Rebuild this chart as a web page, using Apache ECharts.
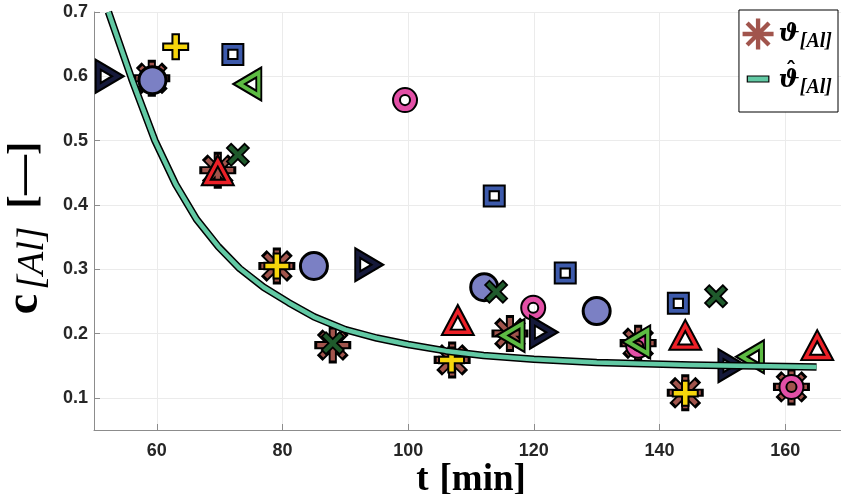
<!DOCTYPE html>
<html>
<head>
<meta charset="utf-8">
<script src="https://cdn.jsdelivr.net/npm/echarts@6/dist/echarts.min.js"></script>
<style>
  html, body { margin: 0; padding: 0; background: #fff; }
  #chart { width: 841px; height: 494px; }
</style>
</head>
<body>
<div id="chart"></div>
<script>
// Mean aluminium fraction per sampling time
const tMean = [59.2, 69.7, 79.1, 88.0, 107.0, 116.2, 136.6, 144.1, 161.0];
const cMean = [0.597, 0.454, 0.305, 0.182, 0.159, 0.200, 0.185, 0.108, 0.117];

// Fitted decay curve
const tFit = [52.3, 56.0, 59.7, 63.0, 66.3, 69.8, 73.2, 77.0, 81.0, 85.0, 90.0, 95.0, 100.0, 106.0, 112.0, 120.0, 130.0, 145.0, 165.0];
const cFit = [0.700, 0.596, 0.500, 0.432, 0.378, 0.335, 0.301, 0.272, 0.248, 0.226, 0.206, 0.193, 0.183, 0.173, 0.166, 0.160, 0.155, 0.151, 0.148];

// Individual runs
const tRunTriR = [52.5, 93.8, 121.6, 151.6];
const cRunTriR = [0.600, 0.307, 0.202, 0.150];
const tRunCircle = [59.3, 85.0, 112.1, 130.0];
const cRunCircle = [0.594, 0.305, 0.272, 0.235];
const tRunPlus = [63.0, 79.1, 106.9, 144.1];
const cRunPlus = [0.646, 0.305, 0.159, 0.107];
const tRunSquare = [72.1, 113.7, 125.0, 143.0];
const cRunSquare = [0.634, 0.414, 0.294, 0.247];
const tRunTriL = [74.4, 116.3, 136.3, 154.4];
const cRunTriL = [0.588, 0.197, 0.187, 0.164];
const tRunRing = [99.5, 119.9, 136.6, 161.0];
const cRunRing = [0.563, 0.240, 0.181, 0.117];
const tRunTriU = [69.7, 107.9, 144.1, 165.1];
const cRunTriU = [0.454, 0.221, 0.198, 0.182];
const tRunCross = [72.9, 114.0, 88.0, 149.0];
const cRunCross = [0.478, 0.265, 0.185, 0.258];

// Tick labels
const xTicks = [60, 80, 100, 120, 140, 160];
const yTicks = [0.1, 0.2, 0.3, 0.4, 0.5, 0.6, 0.7];

const nameMean = 'ϑ[Al]';
const nameFit = 'ϑ̂[Al]';

function pairs(xs, ys) { return xs.map((x, i) => [x, ys[i]]); }

// ---- marker shapes (100x100 boxes) ----
function fmt(v) { return Math.round(v * 100) / 100; }
function rotPoly(pts, deg) {
  const a = deg * Math.PI / 180, c = Math.cos(a), s = Math.sin(a);
  return pts.map(([x, y]) => [50 + (x - 50) * c - (y - 50) * s, 50 + (x - 50) * s + (y - 50) * c]);
}
function polyPath(pts) {
  return 'M' + pts.map(p => fmt(p[0]) + ',' + fmt(p[1])).join('L') + 'Z';
}
// star of four bars through the centre
function starPath(h) {
  let d = '';
  for (let k = 0; k < 4; k++) {
    const bar = [[0, 50 - h], [100, 50 - h], [100, 50 + h], [0, 50 + h]];
    d += polyPath(rotPoly(bar, k * 45));
  }
  return 'path://' + d;
}
function plusPts(h) {
  const a = 50 - h, b = 50 + h;
  return [[a, 0], [b, 0], [b, a], [100, a], [100, b], [b, b], [b, 100], [a, 100], [a, b], [0, b], [0, a], [a, a]];
}
const starInner = starPath(7);
const starOuter = starPath(11);
const plusShape = 'path://' + polyPath(plusPts(13));
const crossShape = 'path://' + polyPath(rotPoly(plusPts(12), 45));
const squareShape = 'path://M0,0H100V100H0ZM28,28V72H72V28Z';
const triRight = 'path://M0,0L100,50L0,100ZM18,30L18,70L58,50Z';
const triLeft = 'path://M100,0L0,50L100,100ZM82,30L82,70L42,50Z';
const triUp = 'path://M50,0L100,100L0,100ZM50,38L28,82L72,82Z';
const ringShape = 'path://M50,0A50,50 0 1,1 50,100A50,50 0 1,1 50,0ZM50,29A21,21 0 1,0 50,71A21,21 0 1,0 50,29Z';
const legendBar = 'path://M-22,14L-22,14M0,0H100V28H0ZM122,14L122,14';

const teal = '#62c9a4';
const brown = '#a1544c';

function scatter(name, xs, ys, symbol, size, color, bw) {
  return {
    type: 'scatter', name: name, data: pairs(xs, ys),
    symbol: symbol, symbolSize: size,
    itemStyle: { color: color, borderColor: '#000', borderWidth: bw, opacity: 1 },
    emphasis: { disabled: true }
  };
}

const serifBold = { fontFamily: 'Liberation Serif', fontWeight: 'bold', color: '#000' };

const chart = echarts.init(document.getElementById('chart'), null, { renderer: 'canvas' });
chart.setOption({
  animation: false,
  backgroundColor: '#fff',
  grid: { left: 94, top: 12, width: 754, height: 418, containLabel: false, outerBoundsMode: 'none' },
  xAxis: {
    type: 'value', min: 50, max: 170, splitNumber: 6,
    name: '{t|t}{b|[min]}',
    nameLocation: 'middle', nameGap: 32, nameMoveOverlap: false,
    nameTextStyle: { rich: {
      t: Object.assign({ fontSize: 37, padding: [0, 11, 0, 0] }, serifBold),
      b: Object.assign({ fontSize: 37 }, serifBold)
    } },
    axisLine: { show: true, lineStyle: { color: '#8c8c8c', width: 1 } },
    axisTick: { show: true, inside: true, length: 6, lineStyle: { color: '#8c8c8c' } },
    splitLine: { show: true, lineStyle: { color: '#ebebeb', width: 1 } },
    axisLabel: {
      margin: 12, color: '#262626', fontFamily: 'Liberation Sans', fontWeight: 'bold', fontSize: 18,
      formatter: v => xTicks.indexOf(Math.round(v)) >= 0 && Math.abs(v - Math.round(v)) < 1e-6 ? String(Math.round(v)) : ''
    }
  },
  yAxis: {
    type: 'value', min: 0.05, max: 0.7, splitNumber: 6,
    name: '{c|c}{s|[Al]}{b|[—]}',
    nameLocation: 'middle', nameGap: 38, nameRotate: 90,
    nameTextStyle: { rich: {
      c: Object.assign({ fontSize: 46, padding: [0, 1, 0, 0] }, serifBold),
      s: { fontFamily: 'Liberation Serif', fontStyle: 'italic', fontSize: 38, color: '#000', padding: [16, 18, 0, 3], lineHeight: 44 },
      b: Object.assign({ fontSize: 40, padding: [0, 14, 0, 0] }, serifBold)
    } },
    axisLine: { show: true, lineStyle: { color: '#8c8c8c', width: 1 } },
    axisTick: { show: true, inside: true, length: 6, lineStyle: { color: '#8c8c8c' } },
    splitLine: { show: true, lineStyle: { color: '#ebebeb', width: 1 } },
    axisLabel: {
      margin: 6, color: '#262626', fontFamily: 'Liberation Sans', fontWeight: 'bold', fontSize: 18,
      formatter: v => {
        const hit = yTicks.find(t => Math.abs(t - v) < 1e-6);
        return hit !== undefined ? hit.toFixed(1) : '';
      }
    }
  },
  legend: {
    orient: 'vertical', right: 3, top: 10,
    backgroundColor: '#fff', borderColor: '#000', borderWidth: 1, borderRadius: 0,
    padding: [6, 6, 14, 3],
    itemWidth: 31, itemHeight: 31, itemGap: 9,
    symbolKeepAspect: true,
    selectedMode: false,
    data: [
      { name: nameMean, icon: starInner, itemStyle: { color: brown, borderWidth: 0 } },
      { name: nameFit, icon: legendBar, itemStyle: { color: teal, borderColor: '#000', borderWidth: 1.2 } }
    ],
    formatter: n => n === nameMean ? '{g|ϑ}{s|[Al]}' : '{h|ˆ}\n{g|ϑ}{s|[Al]}',
    textStyle: { rich: {
      h: { fontFamily: 'DejaVu Serif', fontWeight: 'bold', fontSize: 22, color: '#000', lineHeight: 2, padding: [0, 0, 0, 7] },
      g: { fontFamily: 'DejaVu Serif', fontWeight: 'bold', fontStyle: 'italic', fontSize: 25, color: '#000', lineHeight: 14 },
      s: { fontFamily: 'Liberation Serif', fontWeight: 'bold', fontStyle: 'italic', fontSize: 20, color: '#000', padding: [16, 0, 0, 0], lineHeight: 14 }
    } }
  },
  series: [
    { type: 'line', name: 'fitEdge', data: pairs(tFit, cFit), showSymbol: false, symbol: 'none',
      smooth: false, lineStyle: { color: '#000', width: 7.5, join: 'round' }, emphasis: { disabled: true } },
    { type: 'line', name: nameFit, data: pairs(tFit, cFit), showSymbol: false, symbol: 'none',
      smooth: false, color: teal, lineStyle: { color: teal, width: 4.5, join: 'round' }, emphasis: { disabled: true } },
    scatter('meanEdge', tMean, cMean, starOuter, 37, '#000', 0),
    scatter(nameMean, tMean, cMean, starInner, 31, brown, 0),
    scatter('runCircle', tRunCircle, cRunCircle, 'circle', 27, '#7b80c4', 3),
    scatter('runSquare', tRunSquare, cRunSquare, squareShape, 21, '#3d5aab', 2),
    scatter('runCross', tRunCross, cRunCross, crossShape, 22, '#1f5a2c', 1.8),
    scatter('runRing', tRunRing, cRunRing, ringShape, 24, '#e24fa6', 2),
    scatter('runTriU', tRunTriU, cRunTriU, triUp, [32, 30], '#ec2027', 2),
    scatter('runPlus', tRunPlus, cRunPlus, plusShape, 25, '#f6d50c', 2),
    scatter('runTriR', tRunTriR, cRunTriR, triRight, [28, 33], '#15193a', 2),
    scatter('runTriL', tRunTriL, cRunTriL, triLeft, [28, 33], '#5dbb43', 2)
  ]
});
</script>
</body>
</html>
